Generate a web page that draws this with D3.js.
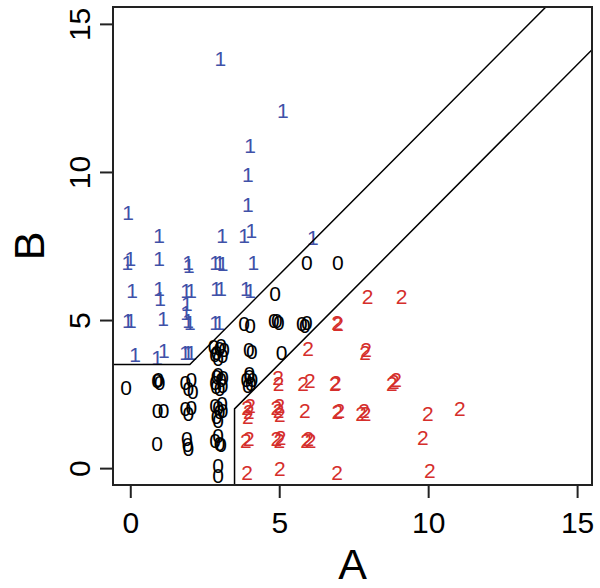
<!DOCTYPE html>
<html lang="en">
<head>
    <meta charset="UTF-8">
    <title>A vs B</title>
    <script src="https://d3js.org/d3.v7.min.js"></script>
    <style>
        body { margin: 0; background: #fff; }
        text { font-family: "Liberation Sans", Arial, sans-serif; }
    </style>
</head>
<body>

<script>
    // class 0 / 1 / 2 points, jittered values
    var class0 = [[5.93,6.96],[6.97,6.96],[4.86,5.91],
        [3.82,4.9],[4.02,4.83],[4.82,5.0],[4.92,5.0],[4.99,4.93],[5.76,4.9],[5.86,4.83],[5.93,4.93],
        [2.8,4.1],[2.9,3.9],[3.0,4.05],[3.1,3.8],[2.95,3.7],[3.15,4.0],[2.85,3.85],[3.05,4.15],[3.98,4.0],[4.08,3.95],[5.08,3.9],
        [-0.14,2.74],[0.9,2.95],[0.94,3.0],[0.98,2.9],[1.85,2.9],[1.95,2.7],[2.05,3.0],[2.1,2.6],
        [2.85,2.9],[2.9,3.1],[3.0,2.7],[3.05,3.0],[3.1,2.8],[2.95,3.15],[3.12,3.05],[2.88,2.75],
        [3.9,3.0],[4.0,3.1],[4.05,2.85],[3.95,2.8],[4.1,3.0],[4.0,3.2],
        [0.92,1.96],[1.12,1.96],[1.85,2.0],[1.95,1.85],[2.05,2.05],
        [2.85,2.1],[2.95,1.6],[3.0,1.9],[3.08,2.2],[2.9,1.75],[3.1,1.95],[2.95,2.05],
        [0.9,0.84],[1.9,1.0],[1.92,0.8],[1.95,0.65],[2.85,0.95],[2.95,1.1],[3.05,0.8],[3.0,0.85],
        [2.95,0.1],[2.95,-0.25]];
    var class1 = [[3.02,13.83],[5.12,12.09],[4.02,10.91],[3.95,9.9],[3.95,8.9],
        [-0.07,8.65],[0.97,7.87],[3.08,7.87],[3.82,7.84],[4.06,8.04],[6.13,7.8],
        [-0.1,6.96],[0.0,7.09],[0.97,7.09],[1.97,6.86],[1.94,6.96],[2.85,6.93],[3.0,6.93],[3.1,6.9],[4.13,6.93],
        [0.06,6.01],[0.97,6.08],[1.0,5.74],[1.87,6.01],[2.04,6.01],[1.9,5.57],[2.88,6.08],[3.05,6.08],[3.88,6.08],[4.02,6.01],
        [-0.08,5.0],[0.02,5.0],[1.1,5.07],[1.87,5.27],[1.94,5.0],[2.0,4.93],[2.85,4.93],[2.98,4.93],
        [0.16,3.85],[0.9,3.75],[1.13,3.99],[1.84,3.9],[1.94,3.92],[2.04,3.9]];
    var class2 = [[7.97,5.78],[9.11,5.78],[6.94,4.93],[6.98,4.88],
        [5.97,4.05],[7.88,3.92],[7.92,4.02],
        [4.96,3.05],[4.98,2.85],[5.8,2.87],[6.03,2.97],[6.87,2.87],[6.9,2.9],[8.78,2.85],[8.85,2.92],[8.92,3.0],
        [3.92,2.05],[3.98,1.9],[4.02,2.1],[3.95,1.75],[4.9,2.05],[4.98,1.95],[5.02,1.8],[5.0,2.1],
        [5.86,1.96],[6.95,1.9],[7.02,1.95],[7.75,1.85],[7.85,1.95],[7.9,1.85],[9.99,1.86],[11.06,2.03],
        [3.88,0.95],[3.98,1.0],[4.9,1.0],[5.0,0.95],[5.05,1.05],[5.9,0.95],[5.98,1.0],[6.05,0.95],[9.82,1.05],
        [3.92,-0.14],[5.02,0.0],[6.94,-0.14],[10.06,-0.07]];

    // decision boundaries
    var upperBoundary = [[-1,3.5],[2,3.5],[16,17.64]];
    var lowerBoundary = [[3.5,-1],[3.5,2],[17,15.64]];

    var xTicks = [0, 5, 10, 15];
    var yTicks = [0, 5, 10, 15];

    var width = 600, height = 588;
    var plotL = 113, plotR = 592, plotT = 7, plotB = 485;

    var svg = d3.select("body").append("svg")
        .attr("width", width)
        .attr("height", height);

    var x = d3.scaleLinear().domain([-0.58, 15.5]).range([plotL, plotR]);
    var y = d3.scaleLinear().domain([-0.57, 15.57]).range([plotB, plotT]);

    svg.append("clipPath").attr("id", "plotclip")
        .append("rect")
        .attr("x", plotL).attr("y", plotT)
        .attr("width", plotR - plotL).attr("height", plotB - plotT);

    var line = d3.line().x(function(d) { return x(d[0]); }).y(function(d) { return y(d[1]); });

    var groups = [
        {pts: class0, label: "0", color: "#000000"},
        {pts: class1, label: "1", color: "#3F51A8"},
        {pts: class2, label: "2", color: "#D52E2B"}
    ];
    groups.forEach(function(g) {
        svg.append("g").selectAll("text")
            .data(g.pts)
            .enter().append("text")
            .attr("x", function(d) { return x(d[0]); })
            .attr("y", function(d) { return y(d[1]); })
            .attr("dy", "0.36em")
            .attr("text-anchor", "middle")
            .attr("font-size", 21)
            .attr("fill", g.color)
            .text(g.label);
    });

    [upperBoundary, lowerBoundary].forEach(function(b) {
        svg.append("path")
            .attr("d", line(b))
            .attr("clip-path", "url(#plotclip)")
            .attr("fill", "none")
            .attr("stroke", "#000")
            .attr("stroke-width", 1.5);
    });

    svg.append("rect")
        .attr("x", plotL).attr("y", plotT)
        .attr("width", plotR - plotL).attr("height", plotB - plotT)
        .attr("fill", "none")
        .attr("stroke", "#222")
        .attr("stroke-width", 2);

    var xAxis = svg.append("g")
        .attr("transform", "translate(0," + plotB + ")")
        .call(d3.axisBottom(x).tickValues(xTicks).tickSize(13).tickPadding(14));
    var yAxis = svg.append("g")
        .attr("transform", "translate(" + plotL + ",0)")
        .call(d3.axisLeft(y).tickValues(yTicks).tickSize(13).tickPadding(14));
    [xAxis, yAxis].forEach(function(a) {
        a.select(".domain").remove();
        a.selectAll("line").attr("stroke", "#222").attr("stroke-width", 2);
        a.selectAll("text").attr("font-size", 30).attr("fill", "#000")
            .style("font-family", "Liberation Sans, Arial, sans-serif");
    });
    yAxis.selectAll("text")
        .attr("x", null)
        .attr("text-anchor", "middle")
        .attr("transform", "translate(-34,0) rotate(-90)")
        .attr("dy", "0.35em");

    svg.append("text")
        .attr("x", (plotL + plotR) / 2).attr("y", 579)
        .attr("text-anchor", "middle")
        .attr("font-size", 43)
        .text("A");
    svg.append("text")
        .attr("transform", "translate(44," + ((plotT + plotB) / 2) + ") rotate(-90)")
        .attr("text-anchor", "middle")
        .attr("font-size", 43)
        .text("B");
</script>
</body>
</html>
